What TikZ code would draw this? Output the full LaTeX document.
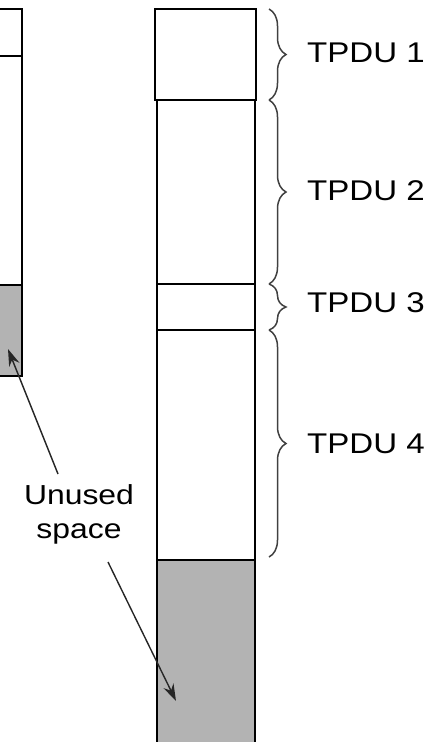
\documentclass[tikz,border=0pt]{standalone}
\usepackage{fontspec}
\newfontfamily\lblfont[FakeStretch=1.16]{Liberation Sans}
\usetikzlibrary{decorations.pathreplacing,arrows.meta}
\definecolor{unused}{RGB}{179,179,179}
\tikzset{
  cell/.style={draw=black, line width=1.7pt, fill=white},
  freecell/.style={draw=black, line width=1.7pt, fill=unused},
  tbrace/.style={draw=black!75, line width=1.5pt, decorate, decoration={brace, amplitude=17pt}},
  lbl/.style={font=\lblfont\fontsize{28.5}{32}\selectfont, inner sep=0pt, text=black},
  ptr/.style={draw=black!85, line width=1.4pt, -{Stealth[length=17pt,width=11pt]}}
}
\begin{document}
\begin{tikzpicture}[x=1pt,y=-1pt]
\useasboundingbox (0,0) rectangle (433,742);
\clip (0,0) rectangle (433,742);
% left column (partly out of view)
\draw[cell] (-60,9) rectangle (22,56);
\draw[cell] (-60,56) rectangle (22,285);
\draw[freecell] (-60,285) rectangle (22,376);
% right column
\draw[cell] (157,100) rectangle (255,284);
\draw[cell] (157,284) rectangle (255,330);
\draw[cell] (157,330) rectangle (255,560);
\draw[freecell] (157,560) rectangle (255,760);
\draw[cell] (155,9) rectangle (256,100);
% braces
\coordinate (b0) at (269,9);
\coordinate (b1) at (269,100);
\coordinate (b2) at (269,284);
\coordinate (b3) at (269,330);
\coordinate (b4) at (269,557);
\draw[tbrace] (b0) -- (b1);
\draw[tbrace] (b1) -- (b2);
\draw[tbrace] (b2) -- (b3);
\draw[tbrace] (b3) -- (b4);
\node[lbl, anchor=west] (t1) at (307,53) {TPDU 1};
\node[lbl, anchor=west] (t2) at (307,191) {TPDU 2};
\node[lbl, anchor=west] (t3) at (307,303) {TPDU 3};
\node[lbl, anchor=west] (t4) at (307,444) {TPDU 4};
% unused space label and pointers
\node[lbl, align=center, font=\lblfont\fontsize{27.5}{34}\selectfont] (us) at (79,514) {Unused\\space};
\coordinate (tipL) at (8,349);
\coordinate (tipR) at (176,701);
\coordinate (startL) at (58,474);
\coordinate (startR) at (108,562);
\draw[ptr] (startL) -- (tipL);
\draw[ptr] (startR) -- (tipR);
\end{tikzpicture}
\end{document}
